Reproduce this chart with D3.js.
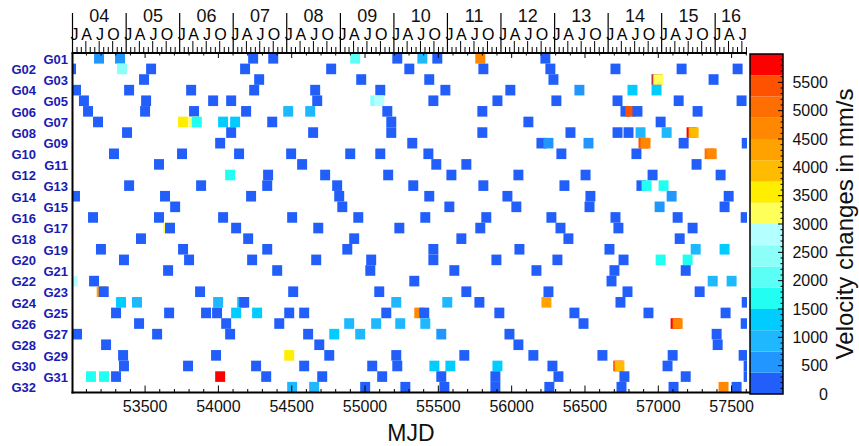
<!DOCTYPE html>
<html><head><meta charset="utf-8">
<script src="https://cdn.jsdelivr.net/npm/d3@7"></script>
<style>body{margin:0;background:#fff;} svg{display:block;font-family:"Liberation Sans",Arial,Helvetica,sans-serif;}</style>
</head><body><svg id="c" width="859" height="446"></svg>
<script>
// ---------- data ----------
const prns = d3.range(1, 33).map(i => "G" + String(i).padStart(2, "0"));
const mjdTicks = [53500, 54000, 54500, 55000, 55500, 56000, 56500, 57000, 57500];
const mjdDomain = [53005, 57605];
const years = [2004,2005,2006,2007,2008,2009,2010,2011,2012,2013,2014,2015,2016];
const yearLabels = ["04","05","06","07","08","09","10","11","12","13","14","15","16"];
const quarterLetters = ["J","A","J","O"];
const colorTicks = [0,500,1000,1500,2000,2500,3000,3500,4000,4500,5000,5500];
const colorDomain = [0, 6000];
const paletteColors = ["#225ffa","#2296ff","#1fb8ff","#00ccff","#22fff2","#5cfff6","#8cfff8","#b4ffff",
                       "#ffff5a","#ffee00","#ffbb00","#ffa200","#ff8800","#ff6e00","#ff5200","#ff0000"];

// event epochs (MJD) per satellite, row order = prns
const eventMjd = [
 [53186,53329,54237,54374,54933,55220,55391,55493,55786,56230],
 [52995,53343,53541,54182,54769,55302,55807,56264,56708,57159,57541],
 [53493,54278,54974,55438,56285,56986,56993,57000,57377],
 [53029,53391,53814,54244,54660,55104,55548,55991,56462,56824,56988],
 [53083,53507,53964,54087,54674,55070,55097,55466,55903,56305,56722,57139,57568],
 [53111,53500,53834,54189,54476,54626,55152,55800,56776,56810,56858,57268],
 [53179,53759,53830,53853,54032,54114,54367,55179,56114,57016],
 [53377,54087,54646,55179,55800,56401,56722,56797,56879,57057,57227,57241],
 [54012,55322,56203,56251,56524,56899,56913,57173,57603],
 [53288,53752,54141,54496,54899,55104,55432,56339,56851,57350,57364],
 [53595,54571,55486,55691,57261],
 [54080,54339,54728,55158,55589,56046,56504,56961,57425],
 [53391,53882,54333,54810,55329,55807,56360,56885,56920,57036],
 [53022,53636,54223,54824,55438,55971,56537,57091,57480],
 [53705,54845,55575,56032,56531,57009,57452],
 [53145,53595,54032,54503,54954,55411,55827,56271,56708,57132,57596],
 [53657,53670,54121,54681,55234,55786,56333,56728,57234],
 [53472,54203,54926,55657,56387,57146],
 [53199,53759,54333,54879,55466,56053,56667,57255,57452],
 [53356,53800,54230,54667,55042,55466,55896,56312,56763,57016,57200],
 [53657,54401,55036,55609,56169,56701,57187],
 [53006,53152,55336,56681,57371,57500],
 [53204,53218,53875,54510,55097,55691,56251,56790,57282],
 [53336,53445,53998,54162,54176,55213,55561,55780,56237,56742,57603],
 [53302,53664,53916,53991,54121,54264,54483,54585,55145,55370,55404,55916,56428,56933,57459],
 [53459,54053,54415,54892,55076,55240,55411,56490,57118,57132,57596],
 [53036,53582,54080,54612,54790,54967,55520,55985,57398],
 [53234,54688,56046,57405],
 [53350,53984,54483,54756,55213,55677,56148,56619,57098,57582],
 [53356,53793,54257,54585,55049,55220,55473,55582,55903,56278,56728,56735,57063,57616],
 [53131,53220,53302,54012,54326,54708,55117,55520,55889,56319,56769,57187,57616],
 [54503,54653,55001,55275,55541,55889,56257,56749,57104,57445,57534]
];
// velocity changes (mm/s) matching eventMjd
const eventDv = [
 [600,600,200,200,2000,200,900,200,4700,200],
 [200,2400,200,200,200,200,200,200,200,200,200],
 [200,200,200,200,200,900,5800,3200,200],
 [200,200,200,200,200,200,200,200,600,1300,1300],
 [200,200,200,200,200,2400,2800,200,200,200,200,200,200],
 [200,200,200,200,900,900,200,200,200,5400,200,200],
 [200,3500,3200,1700,1300,1300,200,200,200,200],
 [200,200,200,200,200,200,200,200,900,900,5800,3900],
 [200,200,200,600,600,5400,4700,200,200],
 [200,200,200,200,200,200,200,200,200,5100,4700],
 [200,200,200,200,200],
 [1700,200,200,200,200,200,200,200,200],
 [200,200,200,200,200,200,200,200,1700,1700],
 [200,200,200,200,200,200,200,600,200],
 [200,200,200,200,200,600,200],
 [200,200,200,200,200,200,200,200,200,200,200],
 [3200,200,200,200,200,200,200,200,200],
 [200,200,200,200,200,200],
 [200,200,200,200,200,200,200,900,1300],
 [200,200,200,200,200,200,200,200,200,1700,1700],
 [200,200,200,200,200,200,200],
 [2800,200,200,200,900,900],
 [4300,200,200,200,200,200,200,200,200],
 [1300,900,900,900,200,900,900,200,4300,200,200],
 [200,200,200,200,1300,1300,200,200,200,4700,200,200,200,200,200],
 [200,200,200,900,900,900,900,200,5800,4700,200],
 [200,200,200,200,1300,900,600,200,200],
 [200,200,200,200],
 [200,200,3500,200,200,200,200,200,200,200],
 [200,200,200,200,200,200,1300,1300,1300,200,5800,3900,200,200],
 [1700,1700,200,5800,200,200,200,200,200,200,200,200,200],
 [900,900,200,200,200,200,200,200,200,4700,200]
];
const boxDays = 68;

// ---------- layout ----------
const svg = d3.select("#c");
const L = 72.5, R = 747, T = 53, B = 392.5;
const x = d3.scaleLinear(mjdDomain, [L, R]);
const y = d3.scaleBand(prns, [T, B]).padding(0);
const color = d3.scaleQuantize(colorDomain, paletteColors);
const toMjd = (yy, m) => Date.UTC(yy, m, 1) / 864e5 + 40587;

svg.append("clipPath").attr("id", "plotclip")
  .append("rect").attr("x", L).attr("y", T).attr("width", R - L).attr("height", B - T);

// cells
const events = [];
prns.forEach((p, i) => eventMjd[i].forEach((m, j) => events.push({p, m, v: eventDv[i][j] ?? 200})));
svg.append("g").attr("clip-path", "url(#plotclip)")
  .selectAll("rect").data(events).join("rect")
  .attr("x", d => x(d.m - boxDays / 2))
  .attr("width", d => x(d.m + boxDays / 2) - x(d.m - boxDays / 2))
  .attr("y", d => y(d.p))
  .attr("height", y.bandwidth())
  .attr("fill", d => color(d.v));

// bottom axis
const axB = svg.append("g");
const minorTicks = d3.range(53100, 57601, 100);
axB.selectAll("line.mn").data(minorTicks).join("line")
  .attr("x1", d => x(d)).attr("x2", d => x(d))
  .attr("y1", B).attr("y2", d => B - (d % 500 === 0 ? 7 : 3.5))
  .attr("stroke", "#000").attr("stroke-width", 1);
axB.selectAll("line.mt").data(minorTicks).join("line")
  .attr("x1", d => x(d)).attr("x2", d => x(d))
  .attr("y1", T).attr("y2", d => T + (d % 500 === 0 ? 5 : 2.5))
  .attr("stroke", "#000").attr("stroke-width", 1);
axB.selectAll("text").data(mjdTicks).join("text")
  .attr("x", d => x(d)).attr("y", 411.5).attr("text-anchor", "middle")
  .attr("font-size", 16).attr("fill", "#111").text(d => d);
svg.append("text").attr("x", 411).attr("y", 441).attr("text-anchor", "middle")
  .attr("font-size", 23).attr("fill", "#111").text("MJD");

// frame lines
svg.append("line").attr("x1", L - 1).attr("x2", 750).attr("y1", B).attr("y2", B).attr("stroke", "#000").attr("stroke-width", 2);
svg.append("line").attr("x1", L).attr("x2", L).attr("y1", T).attr("y2", B + 1).attr("stroke", "#000").attr("stroke-width", 2);
svg.append("line").attr("x1", L - 1).attr("x2", R).attr("y1", T).attr("y2", T).attr("stroke", "#000").attr("stroke-width", 2);

// top time axis
const axT = svg.append("g");
const months = [];
years.forEach(yy => d3.range(12).forEach(m => { const v = toMjd(yy, m); if (v >= mjdDomain[0] - 1 && v <= mjdDomain[1]) months.push({yy, m, v}); }));
axT.selectAll("line").data(months).join("line")
  .attr("x1", d => x(d.v)).attr("x2", d => x(d.v))
  .attr("y1", T).attr("y2", d => d.m === 0 ? 13 : (d.m % 3 === 0 ? 41 : 47))
  .attr("stroke", "#000").attr("stroke-width", d => d.m === 0 ? 1.2 : 1);
axT.selectAll("text.q").data(months.filter(d => d.m % 3 === 0)).join("text")
  .attr("class", "q").attr("x", d => x(d.v) + (d.m === 0 ? 2 : 0.8)).attr("y", 39.5)
  .attr("text-anchor", "middle").attr("font-size", 16).attr("fill", "#000")
  .text(d => quarterLetters[d.m / 3]);
axT.selectAll("text.y").data(years).join("text")
  .attr("class", "y")
  .attr("x", yy => (x(Math.max(toMjd(yy, 0), mjdDomain[0])) + x(Math.min(toMjd(yy + 1, 0), mjdDomain[1]))) / 2)
  .attr("y", 22).attr("text-anchor", "middle").attr("font-size", 18).attr("fill", "#111")
  .text((yy, i) => yearLabels[i]);

// row labels
svg.append("g").selectAll("text").data(prns).join("text")
  .attr("x", (d, i) => i % 2 === 0 ? 68 : 36)
  .attr("y", d => y(d) + y.bandwidth() / 2 + 0.8)
  .attr("dominant-baseline", "central").attr("text-anchor", "end")
  .attr("font-size", 13).attr("font-weight", "bold").attr("fill", "#1a1ab4")
  .text(d => d);

// colour bar
const cy = d3.scaleLinear(colorDomain, [394, 54]);
const CL = 750, CR = 783;
const step = (colorDomain[1] - colorDomain[0]) / paletteColors.length;
svg.append("g").selectAll("rect").data(paletteColors).join("rect")
  .attr("x", CL).attr("width", CR - CL)
  .attr("y", (c, i) => cy((i + 1) * step)).attr("height", (c, i) => cy(i * step) - cy((i + 1) * step))
  .attr("fill", c => c);
svg.append("rect").attr("x", CL).attr("y", 54).attr("width", CR - CL).attr("height", 340)
  .attr("fill", "none").attr("stroke", "#000").attr("stroke-width", 1.5);
const cMinor = d3.range(100, 6000, 100);
svg.append("g").selectAll("line").data(cMinor).join("line")
  .attr("x1", CR).attr("x2", d => CR - (d % 500 === 0 ? 5 : 2.5))
  .attr("y1", d => cy(d)).attr("y2", d => cy(d)).attr("stroke", "#000").attr("stroke-width", 1);
svg.append("g").selectAll("text").data(colorTicks).join("text")
  .attr("x", 828).attr("y", d => cy(d) + 5.5).attr("text-anchor", "end")
  .attr("font-size", 16).attr("fill", "#111").text(d => d);
svg.append("text").attr("transform", "translate(853,224) rotate(-90)")
  .attr("text-anchor", "middle").attr("font-size", 24).attr("fill", "#111")
  .text("Velocity changes in mm/s");
</script></body></html>
